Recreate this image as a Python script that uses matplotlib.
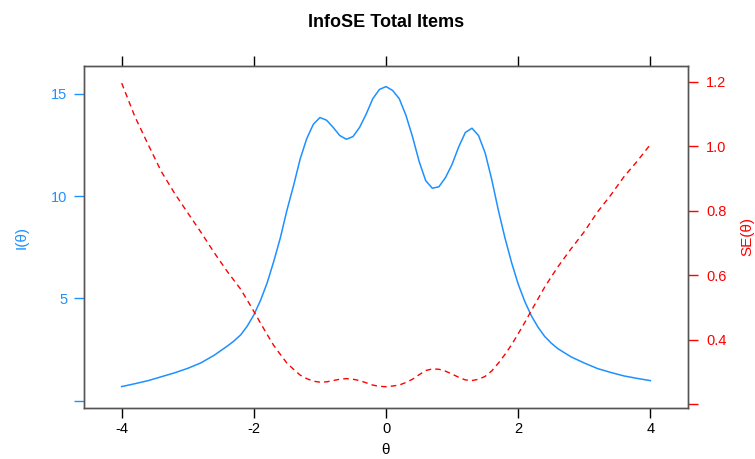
import matplotlib
matplotlib.use("Agg")
import matplotlib.pyplot as plt

plt.rcParams['font.family'] = ['Liberation Sans', 'DejaVu Sans']

# ---- data ----
theta = [-4.0, -3.8, -3.6, -3.4, -3.2, -3.0, -2.8, -2.6, -2.4, -2.3, -2.2, -2.1,
         -2.0, -1.9, -1.8, -1.7,
         -1.6, -1.5, -1.4, -1.3, -1.2, -1.1, -1.0, -0.9, -0.8, -0.7, -0.6, -0.5,
         -0.4, -0.3, -0.2, -0.1, 0.0, 0.1, 0.2, 0.3, 0.4, 0.5, 0.6, 0.7, 0.8, 0.9,
         1.0, 1.1, 1.2, 1.3, 1.4, 1.5, 1.6, 1.7, 1.8, 1.9, 2.0, 2.1, 2.2, 2.3,
         2.4, 2.5, 2.6, 2.8, 3.0, 3.2, 3.4, 3.6, 3.8, 4.0]
info = [0.70, 0.84, 0.99, 1.18, 1.37, 1.59, 1.86, 2.23, 2.68, 2.93, 3.22, 3.65,
        4.20, 4.90, 5.75, 6.80,
        7.95, 9.30, 10.50, 11.80, 12.80, 13.50, 13.83, 13.70, 13.35, 12.95, 12.77, 12.90,
        13.35, 14.00, 14.75, 15.20, 15.34, 15.15, 14.75, 13.95, 12.90, 11.70, 10.75, 10.38, 10.45, 10.90,
        11.55, 12.40, 13.10, 13.31, 12.95, 12.10, 10.80, 9.30, 7.95, 6.75, 5.70, 4.85, 4.15, 3.60,
        3.15, 2.82, 2.55, 2.15, 1.85, 1.58, 1.39, 1.22, 1.10, 0.99]
se = [1.195, 1.091, 1.005, 0.921, 0.854, 0.793, 0.733, 0.670, 0.611, 0.584, 0.557, 0.523,
      0.488, 0.452, 0.417, 0.383,
      0.355, 0.328, 0.309, 0.291, 0.280, 0.272, 0.269, 0.270, 0.274, 0.278, 0.280, 0.278,
      0.274, 0.267, 0.260, 0.256, 0.255, 0.257, 0.260, 0.268, 0.278, 0.292, 0.305, 0.310, 0.309, 0.303,
      0.294, 0.284, 0.276, 0.274, 0.278, 0.287, 0.304, 0.328, 0.355, 0.385, 0.419, 0.454, 0.491, 0.527,
      0.563, 0.595, 0.626, 0.682, 0.735, 0.796, 0.848, 0.905, 0.953, 1.005]

x_ticks = [-4, -2, 0, 2, 4]
x_labels = ['-4', '-2', '0', '2', '4']
left_ticks = [0, 5, 10, 15]
left_labels = ['', '5', '10', '15']
right_ticks = [0.2, 0.4, 0.6, 0.8, 1.0, 1.2]
right_labels = ['', '0.4', '0.6', '0.8', '1.0', '1.2']

title = 'InfoSE Total Items'
blue = '#1E90FF'
red = '#FF0000'
spine_col = '#555555'

W, H = 755, 459
fig = plt.figure(figsize=(W / 100, H / 100), dpi=100)
ax = fig.add_axes([0.1113, 0.1118, 0.8000, 0.7451])
ax2 = ax.twinx()

ax.plot(theta, info, color=blue, lw=1.1)
ax2.plot(theta, se, color=red, lw=1.0, linestyle=(0, (4, 3)))

ax.set_xlim(-4.57, 4.57)
ax.set_ylim(-0.33, 16.36)
ax2.set_ylim(0.19, 1.249)

ax.set_xticks(x_ticks)
ax.set_xticklabels(x_labels, fontsize=10.5)
ax.tick_params(axis='x', which='both', top=True, bottom=True, direction='out',
               length=7, width=1, color='black', labelcolor='black', pad=3)
ax.set_yticks(left_ticks)
ax.set_yticklabels(left_labels, fontsize=10.5)
ax.tick_params(axis='y', direction='out', length=7, width=1, color=blue,
               labelcolor=blue, pad=5)
ax2.set_yticks(right_ticks)
ax2.set_yticklabels(right_labels, fontsize=10.5)
ax2.tick_params(axis='y', direction='out', length=7, width=1, color=red,
                labelcolor=red, pad=6)

for a in (ax, ax2):
    for s in a.spines.values():
        s.set_color(spine_col)
        s.set_linewidth(1.0)

fig.text(385.8 / W, 1 - 450 / H, 'θ', ha='center', va='center', fontsize=11)
fig.text(22 / W, 1 - 237 / H, 'I(θ)', ha='center', va='center', fontsize=11,
         color=blue, rotation=90)
fig.text(747 / W, 1 - 237 / H, 'SE(θ)', ha='center', va='center', fontsize=11,
         color=red, rotation=90)

fig.text(0.511, 0.952, title, ha='center', va='center', fontsize=13, fontweight='bold')

fig.savefig('out.png', dpi=100)
